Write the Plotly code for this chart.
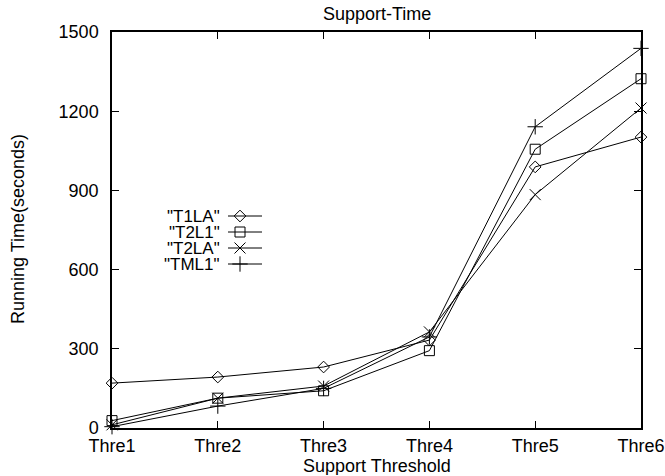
import plotly.graph_objects as go

categories = ["Thre1", "Thre2", "Thre3", "Thre4", "Thre5", "Thre6"]
series_names = ['"T1LA"', '"T2L1"', '"T2LA"', '"TML1"']
t1la = [170, 193, 231, 333, 989, 1102]
t2l1 = [28, 113, 141, 293, 1056, 1323]
t2la = [12, 113, 159, 364, 884, 1212]
tml1 = [5, 83, 150, 345, 1141, 1438]
y_ticks = [0, 300, 600, 900, 1200, 1500]

series = [t1la, t2l1, t2la, tml1]
symbols = ["diamond-open", "square-open", "x-thin-open", "cross-thin-open"]
sizes = [9, 10, 11, 11]

FONT = "Liberation Sans, Arial, sans-serif"
FS = 18
fig = go.Figure()
xi = list(range(len(categories)))
for name, vals, sym, sz in zip(series_names, series, symbols, sizes):
    fig.add_trace(go.Scatter(
        x=xi, y=vals, mode="lines+markers", name=name, showlegend=False,
        line=dict(color="black", width=1),
        marker=dict(symbol=sym, size=sz, color="black",
                    line=dict(color="black", width=1)),
        cliponaxis=False,
    ))

# gnuplot-style key: text on the left, sample on the right (window pixel coords)
key_y = [216, 232, 248, 264]
for name, sym, sz, ky in zip(series_names, symbols, sizes, key_y):
    fig.add_trace(go.Scatter(
        x=[228, 262], y=[ky, ky], mode="lines", xaxis="x2", yaxis="y2",
        showlegend=False, line=dict(color="black", width=1), hoverinfo="skip"))
    fig.add_trace(go.Scatter(
        x=[240], y=[ky], mode="markers", xaxis="x2", yaxis="y2",
        showlegend=False, hoverinfo="skip",
        marker=dict(symbol=sym, size=sz, color="black",
                    line=dict(color="black", width=1))))
    fig.add_annotation(x=222, y=ky, xref="x2", yref="y2", text=name,
                       showarrow=False, xanchor="right", yanchor="middle",
                       height=16, valign="middle",
                       font=dict(family=FONT, size=17, color="black"))

# axis titles and chart title placed like the gnuplot original
fig.add_annotation(text="Support-Time", xref="paper", yref="paper", x=0.5, y=1,
                   yshift=32 - 14, xanchor="center", yanchor="middle",
                   showarrow=False, font=dict(family=FONT, size=FS, color="black"))
fig.add_annotation(text="Support Threshold", xref="paper", yref="paper", x=0.5, y=0,
                   yshift=-(466 - 428), xanchor="center", yanchor="middle",
                   height=18, valign="middle",
                   showarrow=False, font=dict(family=FONT, size=FS, color="black"))
fig.add_annotation(text="Running Time(seconds)", xref="paper", yref="paper", x=0,
                   y=(428 - 229) / 396, xshift=-(112 - 18), textangle=-90,
                   xanchor="center", yanchor="middle",
                   showarrow=False, font=dict(family=FONT, size=FS, color="black"))

fig.update_layout(
    width=665, height=476,
    margin=dict(l=112, r=24, t=32, b=48),
    paper_bgcolor="white", plot_bgcolor="white",
    font=dict(family=FONT, size=FS, color="black"),
    xaxis=dict(
        range=[0, 5], tickmode="array", tickvals=xi, ticktext=categories,
        ticks="inside", ticklen=7, tickcolor="black", tickwidth=1,
        showline=True, linecolor="black", linewidth=1.5, mirror="ticks",
        showgrid=False, zeroline=False, automargin=False,
        ticklabelstandoff=1,
        tickfont=dict(family=FONT, size=FS),
    ),
    yaxis=dict(
        range=[0, 1500], tickmode="array", tickvals=y_ticks,
        ticks="inside", ticklen=7, tickcolor="black", tickwidth=1,
        showline=True, linecolor="black", linewidth=1.5, mirror="ticks",
        showgrid=False, zeroline=False, automargin=False,
        ticklabelstandoff=8,
        tickfont=dict(family=FONT, size=FS),
    ),
    xaxis2=dict(range=[112, 641], overlaying="x", visible=False, fixedrange=True),
    yaxis2=dict(range=[428, 32], overlaying="y", visible=False, fixedrange=True),
)

# remove the default 8px page margin so the figure fills the window exactly
fig.write_html("out.html", config={"displayModeBar": False},
               post_script="document.body.style.margin='0';document.body.style.overflow='hidden';")
